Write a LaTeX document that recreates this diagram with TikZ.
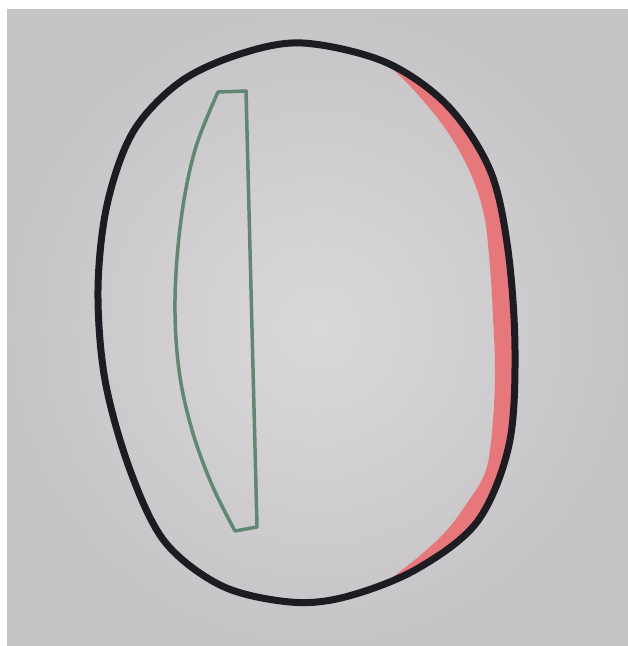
\documentclass[tikz,border=0pt]{standalone}
\definecolor{paperin}{RGB}{218,216,217}
\definecolor{paperout}{RGB}{198,196,198}
\definecolor{inkblack}{RGB}{28,28,34}
\definecolor{inkred}{RGB}{230,120,124}
\definecolor{inkgreen}{RGB}{96,135,114}
\tikzset{
  ovalline/.style={draw=inkblack,line width=7pt,line join=round,line cap=round},
  lensline/.style={draw=inkgreen,line width=3.5pt,line join=round,line cap=round},
  redband/.style={fill=inkred}
}
\def\ovalpath{plot[smooth cycle,tension=0.55] coordinates {(303,43) (385,62) (447,105) (490,170) (508,250) (515,350) (509,445) (477,522) (415,570) (345,597) (290,602) (222,586) (165,542) (130,470) (105,380) (98,290) (107,205) (133,132) (180,82) (240,54)}}
\begin{document}
\begin{tikzpicture}[x=1pt,y=-1pt]
\useasboundingbox (0,0) rectangle (628,646);
\fill[white] (0,0) rectangle (628,646);
\shade[inner color=paperin,outer color=paperout] (7,9) rectangle (628,646);
% red band inside right edge
\begin{scope}
  \clip \ovalpath;
  \fill[redband] plot[smooth,tension=0.6] coordinates {(378,56) (400,76) (420,97) (447,131) (470,172) (484,215) (490,267) (493,317) (495,367) (493,420) (486,470) (467,503) (447,530) (423,553) (397,574) (385,584)}
    -- (385,700) -- (700,700) -- (700,0) -- (378,0) -- cycle;
\end{scope}
% black oval
\draw[ovalline] \ovalpath;
% green lens
\draw[lensline] (218,92) -- (246,91) -- (257,527) -- (235,531)
  -- plot[smooth,tension=0.6] coordinates {(235,531) (212,485) (192,430) (179,370) (175,300) (181,220) (195,150) (218,92)} -- cycle;
\end{tikzpicture}
\end{document}
